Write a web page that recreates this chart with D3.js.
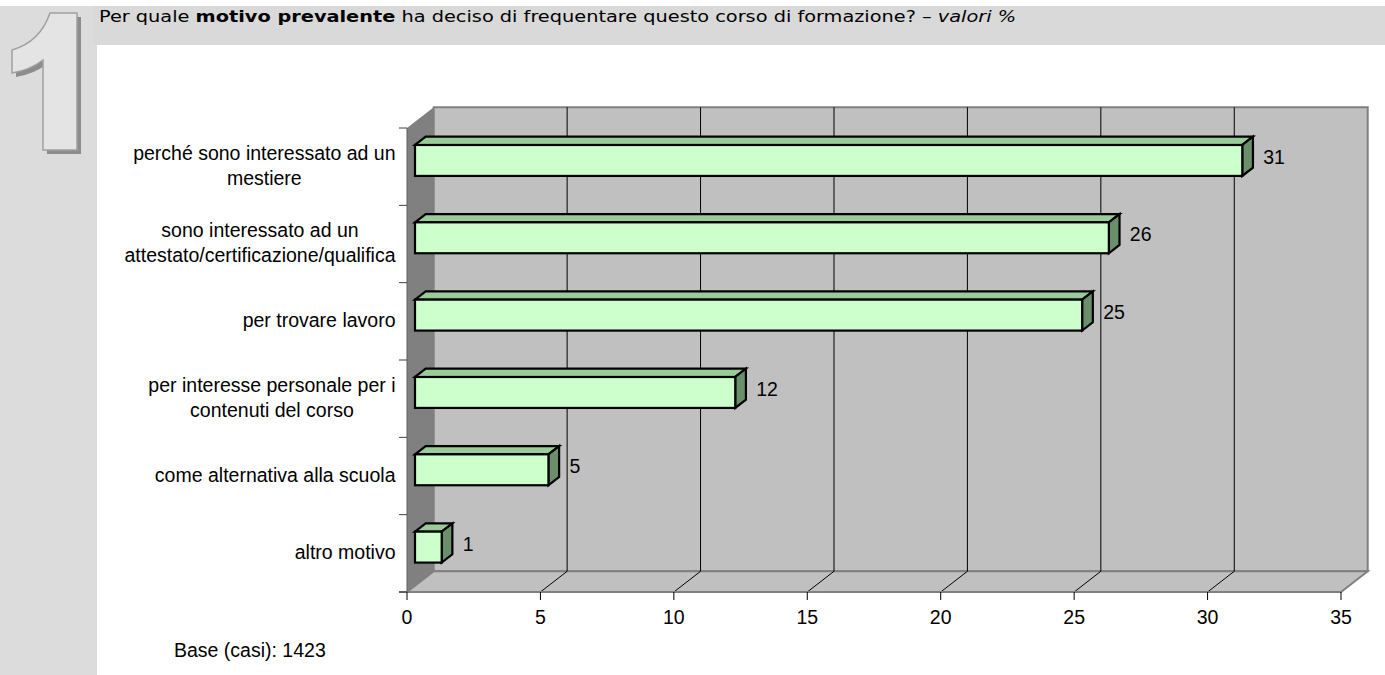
<!DOCTYPE html>
<html lang="it">
<head>
    <meta charset="UTF-8">
    <title>Motivo prevalente</title>
    <script src="https://d3js.org/d3.v7.min.js"></script>
    <style>
        body { margin: 0; background: #fff; }
    </style>
</head>
<body>
    <svg width="1385" height="675" id="chart"></svg>

    <script>
        // data
        var categories = [
            "perché sono interessato ad un\nmestiere",
            "sono interessato ad un\nattestato/certificazione/qualifica",
            "per trovare lavoro",
            "per interesse personale per i\ncontenuti del corso",
            "come alternativa alla scuola",
            "altro motivo"
        ];
        var values = [31, 26, 25, 12, 5, 1];
        var xTicks = [0, 5, 10, 15, 20, 25, 30, 35];
        var baseNote = "Base (casi): 1423";

        var svg = d3.select("#chart");
        var labelFont = "'Liberation Sans', Arial, sans-serif";

        // grey frame: side strip + title band
        svg.append("rect").attr("x", 0).attr("y", 6).attr("width", 97).attr("height", 669).attr("fill", "#dcdcdc");
        svg.append("rect").attr("x", 93).attr("y", 6).attr("width", 1292).attr("height", 39).attr("fill", "#d9d9d9");

        // big outlined "1" with a drop shadow
        var one = "M50,13 L77,13 L77,150 L43,150 L43,60 Q30,70 12,73 L12,50 Q40,42 50,13 Z";
        svg.append("path").attr("d", one).attr("transform", "translate(4,4)").attr("fill", "#8c8c8c");
        svg.append("path").attr("d", one)
            .attr("fill", "#e4e4e4").attr("stroke", "#a0a0a0").attr("stroke-width", 1.5);

        // title
        var title = svg.append("text")
            .attr("font-family", "'DejaVu Sans Condensed', 'DejaVu Sans', Verdana, sans-serif")
            .attr("font-size", 15.5)
            .attr("fill", "#000");
        title.append("tspan").text("Per quale ");
        title.append("tspan").attr("font-weight", "bold").text("motivo prevalente");
        title.append("tspan").text(" ha deciso di frequentare questo corso di formazione? – ");
        title.append("tspan").attr("font-style", "italic").text("valori %");
        var tw = title.node().getComputedTextLength();
        title.attr("transform", "translate(99,22) scale(" + (918 / tw) + ",1)");

        // scales
        var x = d3.scaleLinear().domain([0, 35]).range([407, 1341]);
        var y = d3.scaleBand().domain(d3.range(categories.length)).range([128, 592]);
        var bw = y.bandwidth();
        var dx = 26.7, dy = -20.7;      // wall depth
        var f0 = 0.3, f1 = 0.7;         // bar front/back depth
        var yTop = y.range()[0], yBot = y.range()[1];

        // walls
        svg.append("polygon")
            .attr("points", [[x(0) + dx, yTop + dy], [x(35) + dx, yTop + dy], [x(35) + dx, yBot + dy], [x(0) + dx, yBot + dy]].join(" "))
            .attr("fill", "#c0c0c0").attr("stroke", "#808080").attr("stroke-width", 2);
        svg.append("polygon")
            .attr("points", [[x(0), yTop], [x(0) + dx, yTop + dy], [x(0) + dx, yBot + dy], [x(0), yBot]].join(" "))
            .attr("fill", "#808080");
        svg.append("polygon")
            .attr("points", [[x(0), yBot], [x(0) + dx, yBot + dy], [x(35) + dx, yBot + dy], [x(35), yBot]].join(" "))
            .attr("fill", "#c0c0c0").attr("stroke", "#808080").attr("stroke-width", 2);

        // gridlines
        var inner = xTicks.filter(t => t > 0 && t < 35);
        svg.append("g").selectAll("line").data(inner).join("line")
            .attr("x1", d => x(d) + dx).attr("x2", d => x(d) + dx)
            .attr("y1", yTop + dy).attr("y2", yBot + dy)
            .attr("stroke", "#000").attr("stroke-width", 1);
        svg.append("g").selectAll("line").data(inner).join("line")
            .attr("x1", d => x(d)).attr("x2", d => x(d) + dx)
            .attr("y1", yBot).attr("y2", yBot + dy)
            .attr("stroke", "#000").attr("stroke-width", 1);

        // axes
        svg.append("line").attr("x1", 399).attr("x2", x(35)).attr("y1", yBot).attr("y2", yBot)
            .attr("stroke", "#808080").attr("stroke-width", 2);
        svg.append("line").attr("x1", x(0)).attr("x2", x(0)).attr("y1", yTop).attr("y2", yBot)
            .attr("stroke", "#606060").attr("stroke-width", 1);
        svg.append("g").selectAll("line").data(xTicks).join("line")
            .attr("x1", d => x(d)).attr("x2", d => x(d))
            .attr("y1", yBot).attr("y2", yBot + 8)
            .attr("stroke", "#000").attr("stroke-width", 1);
        svg.append("g").selectAll("line").data(d3.range(categories.length + 1)).join("line")
            .attr("x1", 399).attr("x2", x(0))
            .attr("y1", d => yTop + d * bw).attr("y2", d => yTop + d * bw)
            .attr("stroke", "#404040").attr("stroke-width", 1);

        svg.append("g")
            .attr("font-family", labelFont).attr("font-size", 19.5).attr("text-anchor", "middle")
            .selectAll("text").data(xTicks).join("text")
            .attr("x", d => x(d)).attr("y", 624)
            .text(d => d);

        // bars
        var bars = svg.append("g").selectAll("g").data(values).join("g");
        function geom(v, i) {
            var h = bw * 0.4;
            var c = y(i) + bw / 2;
            return {
                xl: x(0) + f0 * dx, xr: x(v) + f0 * dx,
                yt: c - h / 2 + f0 * dy, yb: c + h / 2 + f0 * dy,
                ox: (f1 - f0) * dx, oy: (f1 - f0) * dy
            };
        }
        bars.append("polygon")
            .attr("points", (d, i) => { var g = geom(d, i); return [[g.xl, g.yt], [g.xr, g.yt], [g.xr + g.ox, g.yt + g.oy], [g.xl + g.ox, g.yt + g.oy]].join(" "); })
            .attr("fill", "#99cc99");
        bars.append("polygon")
            .attr("points", (d, i) => { var g = geom(d, i); return [[g.xr, g.yt], [g.xr + g.ox, g.yt + g.oy], [g.xr + g.ox, g.yb + g.oy], [g.xr, g.yb]].join(" "); })
            .attr("fill", "#6a8f6a");
        bars.append("rect")
            .attr("x", (d, i) => geom(d, i).xl)
            .attr("y", (d, i) => geom(d, i).yt)
            .attr("width", (d, i) => geom(d, i).xr - geom(d, i).xl)
            .attr("height", (d, i) => geom(d, i).yb - geom(d, i).yt)
            .attr("fill", "#ccffcc");
        bars.selectAll("polygon, rect")
            .attr("stroke", "#000").attr("stroke-width", 2.2).attr("stroke-linejoin", "miter");

        // value labels
        svg.append("g")
            .attr("font-family", labelFont).attr("font-size", 19.5)
            .selectAll("text").data(values).join("text")
            .attr("x", (d, i) => geom(d, i).xr + 21)
            .attr("y", (d, i) => (geom(d, i).yt + geom(d, i).yb) / 2 + 3.5)
            .text(d => d);

        // category labels
        var lineH = 25;
        var catG = svg.append("g")
            .attr("font-family", labelFont).attr("font-size", 19.5)
            .selectAll("text").data(categories).join("text")
            .attr("fill", "#000");
        catG.each(function (d, i) {
            var lines = d.split("\n");
            var t = d3.select(this);
            var c = y(i) + bw / 2;
            lines.forEach(function (ln, k) {
                t.append("tspan").attr("y", c + 5.7 + (k - (lines.length - 1) / 2) * lineH).text(ln);
            });
            // right-align the block, centre lines inside it
            var widths = t.selectAll("tspan").nodes().map(n => n.getComputedTextLength());
            var center = 395.5 - d3.max(widths) / 2;
            t.attr("text-anchor", "middle").selectAll("tspan").attr("x", center);
        });

        // base note
        svg.append("text")
            .attr("x", 174).attr("y", 657)
            .attr("font-family", labelFont).attr("font-size", 19.5)
            .text(baseNote);
    </script>
</body>
</html>
